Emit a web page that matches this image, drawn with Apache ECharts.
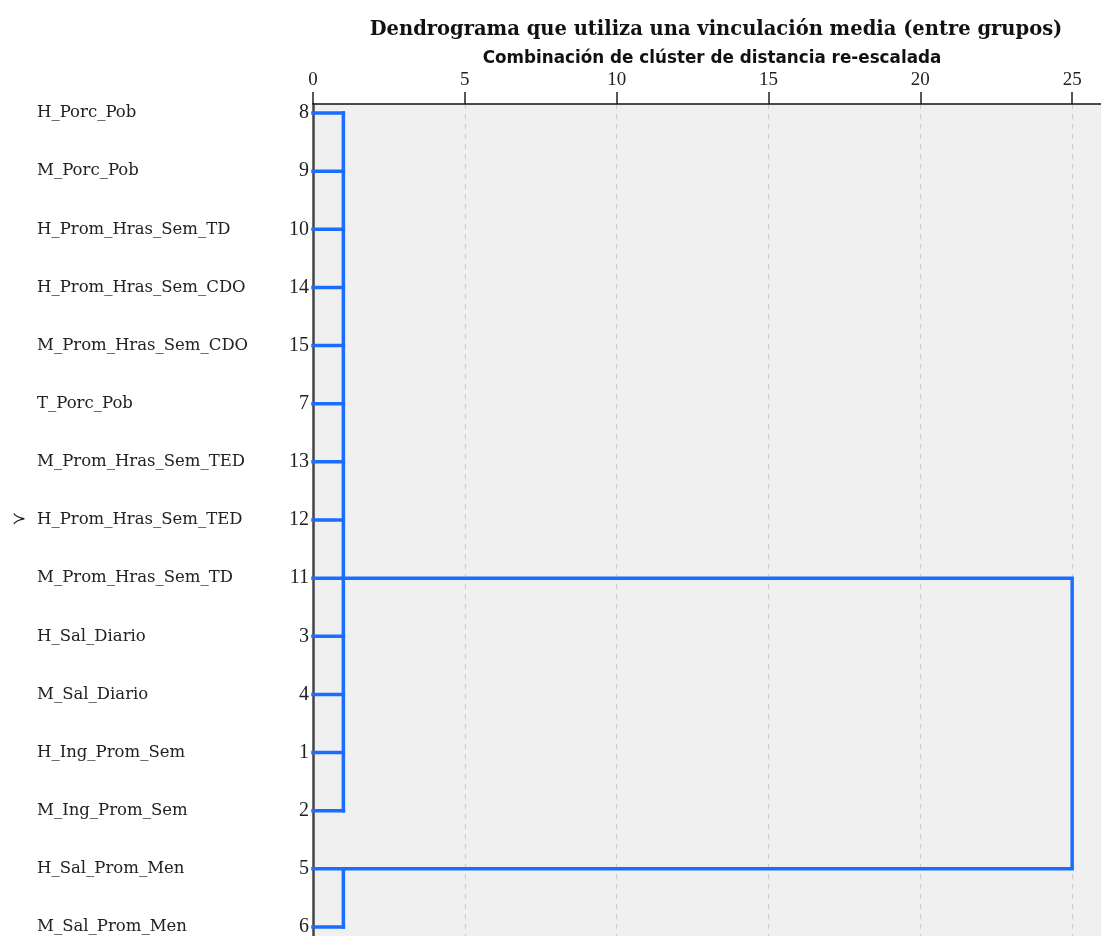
<!DOCTYPE html>
<html>
<head>
<meta charset="utf-8">
<script src="https://cdn.jsdelivr.net/npm/echarts@6/dist/echarts.min.js"></script>
<style>
  html, body { margin: 0; padding: 0; background: #ffffff; }
  #chart { width: 1101px; height: 936px; }
</style>
</head>
<body>
<div id="chart"></div>
<script>
// Leaves in dendrogram order (top to bottom) and their case numbers
const leafNames = [
  'H_Porc_Pob', 'M_Porc_Pob', 'H_Prom_Hras_Sem_TD', 'H_Prom_Hras_Sem_CDO',
  'M_Prom_Hras_Sem_CDO', 'T_Porc_Pob', 'M_Prom_Hras_Sem_TED', 'H_Prom_Hras_Sem_TED',
  'M_Prom_Hras_Sem_TD', 'H_Sal_Diario', 'M_Sal_Diario', 'H_Ing_Prom_Sem',
  'M_Ing_Prom_Sem', 'H_Sal_Prom_Men', 'M_Sal_Prom_Men'
];
const caseNumbers = [8, 9, 10, 14, 15, 7, 13, 12, 11, 3, 4, 1, 2, 5, 6];

// First-level clusters: leaf rows, rescaled joining distance, row where the link leaves
const clusterRows = [[0, 12], [13, 14]];
const clusterHeights = [1, 1];
const clusterAnchors = [8, 13];

// Final join of the two clusters
const finalHeight = 25;

// Row marked with the pointer glyph
const markedRow = 7;

// Build the link segments of the tree
const segments = [];
clusterRows.forEach(function (range, c) {
  const h = clusterHeights[c];
  for (let r = range[0]; r <= range[1]; r++) {
    segments.push({ coords: [[0, r], [h, r]] });
  }
  segments.push({ coords: [[h, range[0]], [h, range[1]]] });
});
const a0 = clusterAnchors[0], a1 = clusterAnchors[1];
segments.push({ coords: [[clusterHeights[0], a0], [finalHeight, a0], [finalHeight, a1], [clusterHeights[1], a1]] });

const rowIdx = leafNames.map(function (_, i) { return i; });
const serif = '"DejaVu Serif", "Liberation Serif", serif';
const numFont = '"Liberation Serif", serif';

const chart = echarts.init(document.getElementById('chart'), null, { renderer: 'canvas' });

const yBase = {
  type: 'value',
  inverse: true,
  min: -0.155,
  max: 14.155,
  position: 'left',
  splitLine: { show: false },
  axisTick: { show: false }
};

chart.setOption({
  animation: false,
  backgroundColor: '#ffffff',
  title: [
    {
      text: 'Dendrograma que utiliza una vinculación media (entre grupos)',
      left: 711, top: 15, textAlign: 'center',
      textStyle: { fontFamily: serif, fontWeight: 'bold', fontSize: 19.5, color: '#111' }
    },
    {
      text: 'Combinación de clúster de distancia re-escalada',
      left: 707, top: 45, textAlign: 'center',
      textStyle: { fontFamily: '"DejaVu Sans", sans-serif', fontWeight: 'bold', fontSize: 16.8, color: '#111' }
    }
  ],
  grid: {
    left: 313, right: 0, top: 104, bottom: 0,
    containLabel: false,
    outerBoundsMode: 'none',
    show: true, backgroundColor: '#f0f0f0', borderWidth: 0
  },
  xAxis: {
    type: 'value',
    position: 'top',
    min: 0,
    max: 25.95,
    interval: 5,
    axisLine: { show: true, onZero: false, lineStyle: { color: '#111', width: 1.5 } },
    axisTick: { show: true, inside: false, length: 12, lineStyle: { color: '#222', width: 1.5 } },
    axisLabel: {
      showMaxLabel: false, margin: 14,
      fontFamily: numFont, fontSize: 19, color: '#222'
    },
    splitLine: { show: true, lineStyle: { color: '#cfcfcf', type: [5, 5], width: 1.2 } }
  },
  yAxis: [
    Object.assign({}, yBase, {
      axisLine: { show: true, onZero: false, lineStyle: { color: '#444', width: 2.5 } },
      axisLabel: {
        customValues: rowIdx, margin: 4,
        formatter: function (v) { return String(caseNumbers[v]); },
        fontFamily: numFont, fontSize: 20, color: '#222'
      }
    }),
    Object.assign({}, yBase, {
      axisLine: { show: false },
      axisLabel: {
        customValues: rowIdx, margin: 276, align: 'left',
        formatter: function (v) { return leafNames[v]; },
        fontFamily: serif, fontSize: 16.5, color: '#222'
      }
    }),
    Object.assign({}, yBase, {
      axisLine: { show: false },
      axisLabel: {
        customValues: [markedRow], margin: 301, align: 'left',
        formatter: function () { return '≻'; },
        fontFamily: '"DejaVu Sans", sans-serif', fontSize: 17, color: '#222'
      }
    })
  ],
  series: [
    {
      type: 'lines',
      coordinateSystem: 'cartesian2d',
      polyline: true,
      xAxisIndex: 0,
      yAxisIndex: 0,
      lineStyle: { color: '#1a6dff', width: 3.5, opacity: 1, cap: 'square', join: 'miter' },
      silent: true,
      data: segments
    }
  ]
});
</script>
</body>
</html>
